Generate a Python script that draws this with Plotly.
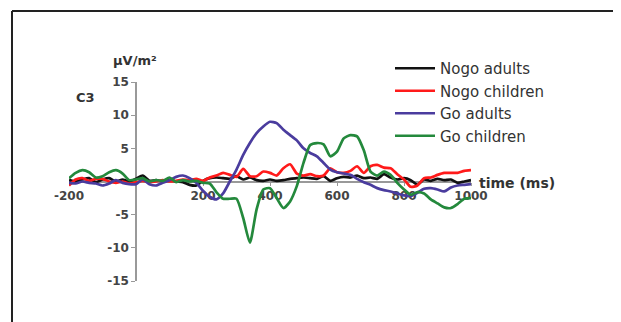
import plotly.graph_objects as go

# time axis (ms), 20 ms steps
time_ms = list(range(-200, 1001, 20))

nogo_adults = [0.2, 0.0, 0.3, 0.5, -0.1, 0.3, 0.5, 0.0, 0.3, 0.0,
               0.4, 0.9, 0.1, 0.2, 0.0, 0.2, 0.0, -0.1, -0.5, -0.6,
               0.1, 0.5, 0.6, 0.5, 0.4, 0.8, 0.3, 0.6, 0.2, 0.1,
               0.3, 0.1, 0.2, 0.4, 0.5, 0.6, 0.5, 0.4, 0.8, 0.1,
               0.5, 0.7, 0.6, 0.9, 0.5, 0.6, 0.4, 1.1, 0.6, 0.3,
               0.5, 0.2, -0.5, 0.3, 0.1, 0.4, 0.2, 0.3, -0.2, 0.0, 0.2]

nogo_children = [-0.6, 0.3, 0.5, 0.1, 0.4, 0.4, 0.0, -0.2, 0.0, -0.3,
                 -0.1, 0.1, -0.1, 0.0, 0.2, 0.0, 0.1, 0.3, 0.2, 0.4,
                 0.1, 0.6, 0.9, 1.3, 1.0, 0.7, 1.9, 0.8, 0.8, 1.5,
                 1.3, 0.9, 2.0, 2.6, 1.2, 0.9, 1.1, 0.8, 0.9, 2.0,
                 1.4, 1.3, 1.6, 2.3, 1.3, 2.3, 2.5, 2.1, 2.0, 1.1,
                 0.3, -0.8, -0.6, 0.5, 0.6, 1.0, 1.3, 1.3, 1.3, 1.6, 1.7]

go_adults = [-0.2, -0.3, 0.0, -0.2, -0.3, -0.6, -0.3, 0.2, -0.2, -0.4,
             -0.4, 0.3, -0.4, -0.6, -0.2, 0.2, 0.7, 0.9, 0.5, -0.2,
             -1.4, -2.3, -2.7, -1.8, 0.0, 1.8, 4.0, 5.8, 7.3, 8.3,
             9.0, 8.8, 7.8, 7.0, 6.2, 5.0, 4.3, 3.8, 2.8, 1.8,
             1.4, 1.2, 1.0, 0.4, -0.1, -0.5, -1.0, -1.3, -1.5, -1.8,
             -2.1, -2.2, -1.7, -1.1, -1.0, -1.2, -1.5, -0.9, -0.6, -0.5, -0.4]

go_children = [0.5, 1.3, 1.7, 1.4, 0.6, 0.8, 1.4, 1.7, 1.2, 0.2,
               0.3, 0.5, 0.0, 0.2, 0.1, 0.6, -0.1, 0.2, 0.0, 0.1,
               -0.2, -0.3, -1.6, -2.6, -2.6, -2.6, -5.5, -9.2, -4.2, -1.2,
               -1.0, -2.5, -4.0, -3.0, -0.7, 2.8, 5.5, 5.8, 5.6, 3.8,
               4.5, 6.5, 7.0, 6.8, 4.7, 1.5, 0.9, 1.5, 1.0, -0.2,
               -1.2, -2.0, -1.6, -1.8, -2.7, -3.3, -3.9, -4.0, -3.4, -2.6, -2.5]

series_names = ["Nogo adults", "Nogo children", "Go adults", "Go children"]
series_values = [nogo_adults, nogo_children, go_adults, go_children]
series_colors = ["#111111", "#ff1a1a", "#4a3c9e", "#24893c"]

x_tick_vals = [-200, 200, 400, 600, 800, 1000]
y_tick_vals = [-15, -10, -5, 5, 10, 15]

OFF = 8  # page body margin
W, H = 621 - OFF, 322 - OFF


def fx(px):
    return (px - OFF) / W


def fy(py):
    return 1 - (py - OFF) / H


fig = go.Figure()
for name, vals, col in zip(series_names, series_values, series_colors):
    fig.add_trace(go.Scatter(
        x=time_ms, y=vals, mode="lines", name=name,
        line=dict(color=col, width=2.7, shape="spline", smoothing=0.6),
    ))

tick_font = dict(family="DejaVu Sans", size=12, color="#444444", weight="bold")
label_font = dict(family="DejaVu Sans", size=13, color="#333333", weight="bold")

fig.update_layout(
    width=W, height=H, autosize=False,
    margin=dict(l=0, r=0, t=0, b=0, pad=0, autoexpand=False),
    paper_bgcolor="white", plot_bgcolor="rgba(0,0,0,0)",
    showlegend=True,
    legend=dict(
        x=fx(390), y=fy(52), xanchor="left", yanchor="top",
        font=dict(family="DejaVu Sans", size=15, color="#333333"),
        bgcolor="rgba(0,0,0,0)", itemwidth=40, tracegroupgap=0,
    ),
    xaxis=dict(
        domain=[fx(69), fx(471)], range=[-200, 1000],
        anchor="free", position=fy(182),
        showline=True, linecolor="#999999", linewidth=1.5,
        ticks="outside", ticklen=3, tickcolor="#999999",
        tickvals=x_tick_vals, ticktext=[str(v) for v in x_tick_vals],
        tickfont=tick_font,
        showgrid=False, zeroline=False, layer="below traces", automargin=False,
    ),
    yaxis=dict(
        domain=[fy(281), fy(82)], range=[-15, 15],
        anchor="free", position=fx(136),
        showline=True, linecolor="#999999", linewidth=1.5,
        ticks="outside", ticklen=4, tickcolor="#999999",
        tickvals=y_tick_vals, ticktext=[str(v) for v in y_tick_vals],
        tickfont=tick_font,
        showgrid=False, zeroline=False, layer="below traces", automargin=False,
    ),
    shapes=[
        dict(type="line", xref="paper", yref="paper",
             x0=fx(12), x1=1.0, y0=fy(11), y1=fy(11),
             line=dict(color="#222222", width=2), layer="below"),
        dict(type="line", xref="paper", yref="paper",
             x0=fx(12), x1=fx(12), y0=fy(11), y1=0,
             line=dict(color="#222222", width=2), layer="below"),
    ],
    annotations=[
        dict(text="μV/m²", xref="paper", yref="paper", x=fx(135), y=fy(61),
             xanchor="center", yanchor="middle", showarrow=False, font=label_font),
        dict(text="C3", xref="paper", yref="paper", x=fx(85), y=fy(97),
             xanchor="center", yanchor="middle", showarrow=False, font=label_font),
        dict(text="time (ms)", xref="paper", yref="paper", x=fx(477), y=fy(183),
             xanchor="left", yanchor="middle", showarrow=False,
             font=dict(family="DejaVu Sans", size=14, color="#333333", weight="bold")),
    ],
)

fig.write_html("out.html")
